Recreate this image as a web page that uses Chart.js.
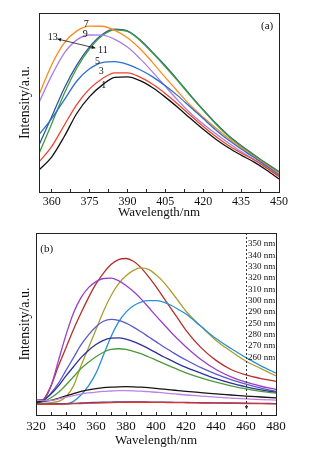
<!DOCTYPE html>
<html>
<head>
<meta charset="utf-8">
<script src="https://cdn.jsdelivr.net/npm/chart.js@4.4.0/dist/chart.umd.min.js"></script>
<style>
  body { margin: 0; background: #fff; }
  canvas { display: block; }
</style>
</head>
<body>
<canvas id="chart-a" width="309" height="220"></canvas>
<canvas id="chart-b" width="309" height="232"></canvas>
<script>
// panel (a): emission spectra, curves 1..13
const wavelengthA = [355, 360, 365, 370, 375, 380, 385, 390, 395, 400, 405, 410, 415, 420, 425, 430, 435, 440, 445, 450];
const curve1 = [12.3, 19.5, 31, 44, 53.3, 59.7, 64, 64.3, 62.2, 58.2, 53, 47.2, 41, 35, 29.5, 24.7, 20.6, 16.8, 12.3, 7.3];
const curve3 = [16.8, 25.3, 37.3, 49, 57.6, 63.3, 66.6, 66.6, 64.2, 60.2, 55, 49, 42.7, 36.6, 31, 26, 21.8, 18, 13.5, 8.6];
const curve5 = [32, 41, 51.5, 62, 68.8, 72.3, 72.8, 71.3, 68.3, 64.3, 59.3, 53.7, 47.3, 41, 34.7, 29, 24, 19.4, 14.5, 9.6];
const curve7 = [54.3, 71, 83.3, 90, 92.7, 92.6, 90.3, 86.2, 80, 72.3, 64, 56, 48.3, 41.8, 35.8, 30, 24.8, 19.8, 15, 10.3];
const curve9 = [50, 65, 77.6, 85, 87.7, 87.6, 85.3, 81, 74.5, 67, 59, 51.2, 44, 38, 32.5, 27.4, 22.6, 18.3, 13.7, 9];
const curve11 = [21.5, 38, 55, 69.3, 80, 87.3, 90.6, 89.7, 84.7, 77.6, 70, 62, 53.6, 45.6, 38, 31.2, 25.6, 20.6, 15.6, 11];
const curve13 = [26.2, 42, 58, 71, 81, 88, 91, 90, 85, 78, 70.5, 62.4, 54, 46, 38.4, 31.6, 26, 21, 16, 11.5];
const ticksA = [360, 367.5, 375, 382.5, 390, 397.5, 405, 412.5, 420, 427.5, 435, 442.5, 450];

// panel (b): spectra at different excitation wavelengths
const wavelengthB = [320, 325, 330, 335, 340, 345, 350, 355, 360, 365, 370, 375, 380, 385, 390, 395, 400, 405, 410, 415, 420, 430, 440, 450, 460, 470, 480];
const ex350 = [6, 6, 6, 6, 6, 7.5, 11, 16, 23, 33, 43, 51, 56.5, 60, 62, 62.8, 62.8, 62, 60.3, 58, 55.5, 48.7, 42, 36.5, 31.5, 27, 23];
const ex340 = [6.5, 6.5, 6.8, 7.5, 10, 16, 27, 37, 47, 57, 65.5, 72, 76.5, 79.5, 80.8, 80, 77, 73, 68, 62.5, 57, 48.7, 41, 35, 29.5, 25.5, 21.5];
const ex330 = [6.7, 8.5, 16, 27, 37, 47, 56, 64.5, 72, 78, 82.7, 85.4, 86, 84.5, 81, 76, 70.5, 64.5, 58.5, 52.5, 46.5, 37, 30, 25, 22, 20, 18.5];
const ex320 = [8.5, 8.5, 16, 30, 44, 56, 64.5, 70, 73.3, 75, 75.2, 73.8, 71.2, 67.8, 63.8, 59.2, 54.5, 50, 45.5, 41.3, 37.4, 30.5, 25, 21, 18, 15.8, 14];
const ex310 = [7, 8, 12, 17.5, 24.5, 31.5, 38.5, 44, 48.5, 51.5, 52.5, 52, 50.5, 48.3, 45.7, 43, 40.3, 37.5, 35, 32.5, 30.2, 26, 22.5, 19.5, 17, 14.8, 13];
const ex300 = [7, 8, 11.5, 16, 21.5, 26.5, 31.5, 35.5, 38.7, 41, 42.2, 42.4, 41.7, 40.3, 38.5, 36.5, 34.3, 32, 30, 28, 26.2, 23, 20, 17.5, 15.5, 13.8, 12.5];
const ex290 = [7, 7.5, 9.5, 12.5, 16.5, 21, 25.5, 29, 32, 34.5, 36, 36.4, 36, 35, 33.7, 32, 30.2, 28.4, 26.6, 24.8, 23.2, 20.4, 18, 16, 14.3, 13, 12];
const ex250 = [7, 7.5, 8, 9.2, 10.5, 11.8, 13, 13.8, 14.5, 15, 15.3, 15.5, 15.6, 15.5, 15.3, 15, 14.6, 14.2, 13.8, 13.4, 13, 12.3, 11.6, 11, 10.4, 9.9, 9.4];
const ex280 = [8.5, 7.8, 8, 8.8, 9.8, 10.7, 11.5, 12.1, 12.6, 13, 13.2, 13.4, 13.4, 13.3, 13.1, 12.8, 12.5, 12.2, 11.8, 11.4, 11, 10.4, 9.8, 9.3, 8.9, 8.5, 8.2];
const ex270 = [6, 6, 6.1, 6.2, 6.3, 6.4, 6.6, 6.8, 6.9, 7, 7.1, 7.2, 7.2, 7.2, 7.2, 7.1, 7.1, 7, 7, 6.9, 6.9, 6.8, 6.7, 6.6, 6.5, 6.4, 6.3];
const ex260 = [5.8, 5.8, 5.9, 6, 6.1, 6.2, 6.3, 6.5, 6.6, 6.7, 6.8, 6.9, 7, 7, 7, 7, 6.9, 6.9, 6.8, 6.8, 6.7, 6.6, 6.5, 6.4, 6.3, 6.2, 6.1];
const ticksB = [320, 330, 340, 350, 360, 370, 380, 390, 400, 410, 420, 430, 440, 450, 460, 470, 480];
const excitationLabels = ['350 nm', '340 nm', '330 nm', '320 nm', '310 nm', '300 nm', '290 nm', '250 nm', '280 nm', '270 nm', '260 nm'];
const markerB = 460;

const serif = '"Liberation Serif", "Times New Roman", serif';

function toPoints(xs, ys) {
  return xs.map((x, i) => ({ x: x, y: ys[i] }));
}

function line(xs, ys, color) {
  return {
    data: toPoints(xs, ys),
    borderColor: color,
    borderWidth: 1.3,
    pointRadius: 0,
    cubicInterpolationMode: 'monotone'
  };
}

function arrowHead(ctx, x0, y0, x1, y1, size) {
  const a = Math.atan2(y1 - y0, x1 - x0);
  ctx.beginPath();
  ctx.moveTo(x1, y1);
  ctx.lineTo(x1 - size * Math.cos(a - 0.45), y1 - size * Math.sin(a - 0.45));
  ctx.lineTo(x1 - size * Math.cos(a + 0.45), y1 - size * Math.sin(a + 0.45));
  ctx.closePath();
  ctx.fill();
}

const framePlugin = {
  id: 'frame',
  afterDraw(chart) {
    const { ctx, chartArea: a } = chart;
    ctx.save();
    ctx.strokeStyle = '#222';
    ctx.lineWidth = 1;
    ctx.strokeRect(Math.round(a.left) + 0.5, Math.round(a.top) + 0.5, Math.round(a.right - a.left), Math.round(a.bottom - a.top));
    ctx.restore();
  }
};

// curve numbers and the arrow in panel (a)
const notesA = {
  id: 'notesA',
  afterDatasetsDraw(chart) {
    const { ctx, scales: { x, y } } = chart;
    const px = v => x.getPixelForValue(v);
    const py = v => y.getPixelForValue(v);
    ctx.save();
    ctx.fillStyle = '#111';
    ctx.strokeStyle = '#111';
    ctx.textAlign = 'center';
    ctx.textBaseline = 'middle';
    ctx.font = '10px ' + serif;
    [['7', 373.7, 93.5], ['9', 373.3, 88.2], ['13', 360.4, 86.6], ['11', 380.3, 78.9],
     ['5', 378.2, 73.1], ['3', 379.6, 67.3], ['1', 380.6, 59.5]].forEach(n => {
      ctx.fillText(n[0], px(n[1]), py(n[2]));
    });
    const x0 = px(362.3), y0 = py(85.5), x1 = px(377.3), y1 = py(80.4);
    ctx.lineWidth = 0.8;
    ctx.beginPath();
    ctx.moveTo(x0, y0);
    ctx.lineTo(x1, y1);
    ctx.stroke();
    arrowHead(ctx, x1, y1, x0, y0, 4);
    arrowHead(ctx, x0, y0, x1, y1, 4);
    ctx.font = '11px ' + serif;
    ctx.fillText('(a)', px(445.3), py(92.9));
    ctx.restore();
  }
};

// dashed marker line and excitation list in panel (b)
const notesB = {
  id: 'notesB',
  afterDatasetsDraw(chart) {
    const { ctx, chartArea: area, scales: { x, y } } = chart;
    const mx = Math.round(x.getPixelForValue(markerB)) + 0.5;
    const tip = y.getPixelForValue(3);
    ctx.save();
    ctx.strokeStyle = '#333';
    ctx.fillStyle = '#333';
    ctx.lineWidth = 1;
    ctx.setLineDash([2, 2]);
    ctx.beginPath();
    ctx.moveTo(mx, area.top);
    ctx.lineTo(mx, tip - 3);
    ctx.stroke();
    ctx.setLineDash([]);
    arrowHead(ctx, mx, tip - 6, mx, tip, 4);
    ctx.fillStyle = '#111';
    ctx.font = '9px ' + serif;
    ctx.textAlign = 'left';
    ctx.textBaseline = 'middle';
    excitationLabels.forEach((t, i) => {
      ctx.fillText(t, mx + 1.5, area.top + 11 + i * 11.33);
    });
    ctx.font = '11px ' + serif;
    ctx.textAlign = 'center';
    ctx.fillText('(b)', x.getPixelForValue(327.1), y.getPixelForValue(91.2));
    ctx.restore();
  }
};

function axes(min, max, tickValues, every, xHeight, yWidth, tickSize, tickPad, titlePad) {
  return {
    x: {
      type: 'linear', min: min, max: max,
      afterFit: s => { s.height = xHeight; },
      afterBuildTicks: s => { s.ticks = tickValues.map(v => ({ value: v })); },
      ticks: {
        autoSkip: false, maxRotation: 0, padding: tickPad, color: '#111',
        font: { family: serif, size: tickSize },
        callback: v => (v % every === 0 ? v : '')
      },
      grid: { drawOnChartArea: false, tickLength: -3, color: '#222' },
      border: { display: false },
      title: { display: true, text: 'Wavelength/nm', color: '#111', font: { family: serif, size: 13 }, padding: { top: 0, bottom: titlePad } }
    },
    y: {
      min: 0, max: 100,
      afterFit: s => { s.width = yWidth; },
      ticks: { display: false },
      grid: { display: false },
      border: { display: false },
      title: { display: true, text: 'Intensity/a.u.', color: '#111', font: { family: serif, size: 14 }, padding: { top: 17, bottom: 0 } }
    }
  };
}

new Chart(document.getElementById('chart-a'), {
  type: 'line',
  data: {
    datasets: [
      line(wavelengthA, curve1, '#111111'),
      line(wavelengthA, curve3, '#f0442e'),
      line(wavelengthA, curve5, '#2a6fcf'),
      line(wavelengthA, curve9, '#a97fdc'),
      line(wavelengthA, curve7, '#ff8a1e'),
      line(wavelengthA, curve11, '#3e9a3a'),
      line(wavelengthA, curve13, '#31569f')
    ]
  },
  options: {
    responsive: false,
    animation: false,
    devicePixelRatio: 1,
    layout: { padding: { left: 0, right: 30, top: 13, bottom: 0 } },
    plugins: { legend: { display: false }, tooltip: { enabled: false } },
    scales: axes(355, 450, ticksA, 15, 28, 39, 12, 6, 0)
  },
  plugins: [framePlugin, notesA]
});

new Chart(document.getElementById('chart-b'), {
  type: 'line',
  data: {
    datasets: [
      line(wavelengthB, ex260, '#e0332b'),
      line(wavelengthB, ex270, '#2744b8'),
      line(wavelengthB, ex280, '#bf80e0'),
      line(wavelengthB, ex250, '#151515'),
      line(wavelengthB, ex290, '#4c9a3c'),
      line(wavelengthB, ex300, '#2c3296'),
      line(wavelengthB, ex310, '#5a5ad0'),
      line(wavelengthB, ex320, '#9a40c6'),
      line(wavelengthB, ex350, '#2a90d6'),
      line(wavelengthB, ex340, '#a89f2e'),
      line(wavelengthB, ex330, '#b2302a')
    ]
  },
  options: {
    responsive: false,
    animation: false,
    devicePixelRatio: 1,
    layout: { padding: { left: 0, right: 33, top: 13, bottom: 0 } },
    plugins: { legend: { display: false }, tooltip: { enabled: false } },
    scales: axes(320, 480, ticksB, 20, 37, 36, 13, 7, 4)
  },
  plugins: [framePlugin, notesB]
});
</script>
</body>
</html>
